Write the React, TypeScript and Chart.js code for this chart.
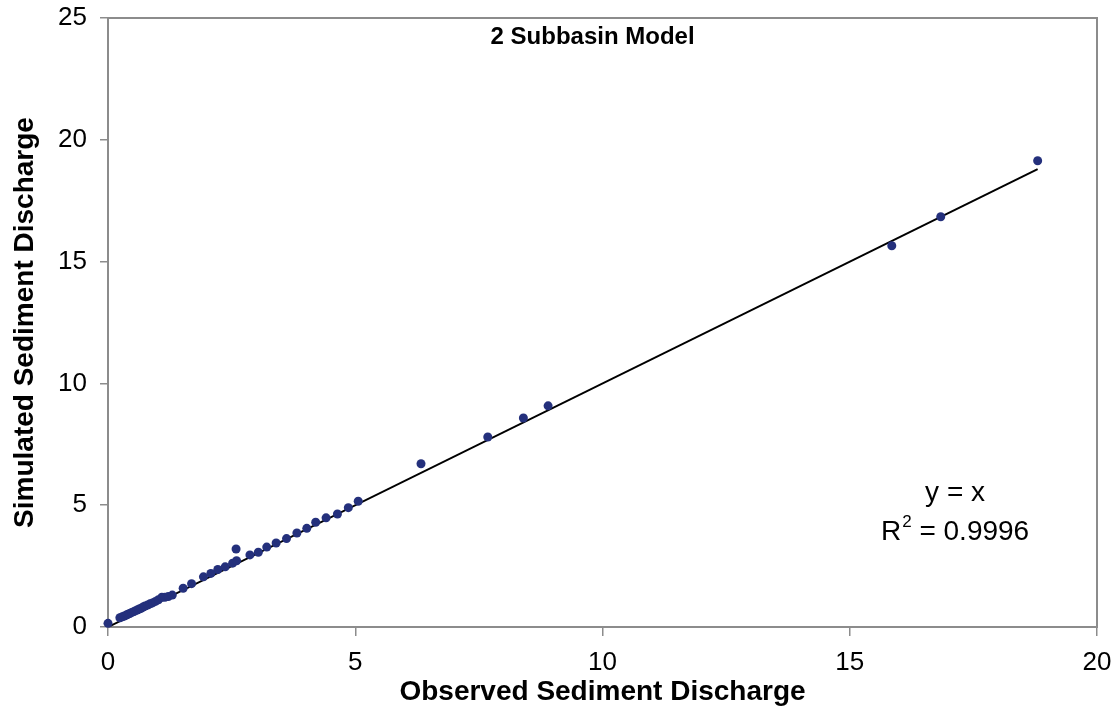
import React, { useEffect, useRef } from "react";
import { Chart, registerables } from "chart.js";

Chart.register(...registerables);

// Observed vs simulated sediment discharge, 2 subbasin model
const observed: number[] = [
  0.0, 0.24, 0.29, 0.33, 0.37, 0.4, 0.44, 0.48, 0.52, 0.55, 0.59, 0.63, 0.67,
  0.71, 0.75, 0.8, 0.85, 0.9, 0.96, 1.02, 1.09, 1.15, 1.22, 1.3, 1.52, 1.69,
  1.93, 2.08, 2.22, 2.37, 2.52, 2.59, 2.6, 2.87, 3.04, 3.21, 3.4, 3.61, 3.82,
  4.02, 4.2, 4.41, 4.64, 4.86, 5.06, 6.33, 7.68, 8.4, 8.9, 15.85, 16.84, 18.8,
];
const simulated: number[] = [
  0.15, 0.38, 0.42, 0.45, 0.49, 0.52, 0.55, 0.6, 0.63, 0.66, 0.7, 0.74, 0.77,
  0.82, 0.86, 0.9, 0.95, 0.99, 1.05, 1.12, 1.22, 1.22, 1.25, 1.31, 1.59, 1.78,
  2.06, 2.2, 2.36, 2.47, 2.62, 3.2, 2.72, 2.96, 3.07, 3.28, 3.45, 3.63, 3.86,
  4.05, 4.3, 4.48, 4.64, 4.9, 5.16, 6.7, 7.8, 8.58, 9.08, 15.65, 16.84, 19.14,
];

const xTicks: number[] = [0, 5, 10, 15, 20];
const yTicks: number[] = [0, 5, 10, 15, 20, 25];

const chartTitle = "2 Subbasin Model";
const xTitle = "Observed Sediment Discharge";
const yTitle = "Simulated Sediment Discharge";
const equationText = "y = x";
const r2Value = "0.9996";

const FONT = "'Liberation Sans', Arial, Helvetica, sans-serif";
const AXIS_GREY = "#8c8c8c";
const POINT_COLOR = "#24307c";

export default function App() {
  const canvasRef = useRef<HTMLCanvasElement | null>(null);

  useEffect(() => {
    const canvas = canvasRef.current;
    if (!canvas) return;

    const points = observed.map((x, i) => ({ x, y: simulated[i] }));
    const xMin = Math.min(...observed);
    const xMax = Math.max(...observed);
    const fitLine = [
      { x: xMin, y: xMin },
      { x: xMax, y: xMax },
    ];

    // frame around the plot area, plus the in-plot title and fit equation
    const decorations = {
      id: "decorations",
      beforeDatasetsDraw(chart: any) {
        const { ctx, chartArea } = chart;
        ctx.save();
        ctx.strokeStyle = AXIS_GREY;
        ctx.lineWidth = 2;
        ctx.strokeRect(
          chartArea.left,
          chartArea.top,
          chartArea.right - chartArea.left,
          chartArea.bottom - chartArea.top
        );
        ctx.restore();
      },
      afterDraw(chart: any) {
        const { ctx, scales } = chart;
        ctx.save();
        ctx.fillStyle = "#000";
        ctx.textBaseline = "middle";
        ctx.textAlign = "center";
        ctx.font = `bold 24px ${FONT}`;
        ctx.fillText(chartTitle, scales.x.getPixelForValue(9.8), scales.y.getPixelForValue(24.2));

        // equation block, centred on one x position
        const cx = scales.x.getPixelForValue(17.13);
        ctx.font = `28px ${FONT}`;
        ctx.fillText(equationText, cx, scales.y.getPixelForValue(5.5));

        const yR = scales.y.getPixelForValue(3.88);
        const bigFont = `28px ${FONT}`;
        const supFont = `17px ${FONT}`;
        const rest = " = " + r2Value;
        ctx.font = bigFont;
        const wR = ctx.measureText("R").width;
        const wRest = ctx.measureText(rest).width;
        ctx.font = supFont;
        const wSup = ctx.measureText("2").width + 1;
        const total = wR + wSup + wRest;
        let x0 = cx - total / 2;
        ctx.textAlign = "left";
        ctx.font = bigFont;
        ctx.fillText("R", x0, yR);
        x0 += wR;
        ctx.font = supFont;
        ctx.fillText("2", x0 + 1, yR - 10);
        x0 += wSup;
        ctx.font = bigFont;
        ctx.fillText(rest, x0, yR);
        ctx.restore();
      },
    };

    const chart = new Chart(canvas, {
      type: "scatter",
      data: {
        datasets: [
          {
            label: "Simulated",
            data: points,
            backgroundColor: POINT_COLOR,
            borderColor: POINT_COLOR,
            borderWidth: 0,
            pointRadius: 4.5,
            clip: false,
            order: 1,
          } as any,
          {
            label: "y = x",
            type: "line",
            data: fitLine,
            borderColor: "#000",
            borderWidth: 2,
            pointRadius: 0,
            fill: false,
            order: 2,
          } as any,
        ],
      },
      options: {
        responsive: false,
        animation: false,
        layout: { padding: { top: 18, right: 20, left: 0, bottom: 0 } },
        plugins: {
          legend: { display: false },
          tooltip: { enabled: false },
        },
        scales: {
          x: {
            type: "linear",
            min: 0,
            max: 20,
            afterBuildTicks: (scale: any) => {
              scale.ticks = xTicks.map((v) => ({ value: v }));
            },
            afterFit: (scale: any) => {
              scale.height = 83;
              scale.paddingLeft = 0;
              scale.paddingRight = 0;
            },
            grid: {
              drawOnChartArea: false,
              drawTicks: true,
              tickLength: 9,
              color: AXIS_GREY,
              lineWidth: 1.5,
            },
            border: { color: AXIS_GREY, width: 2 },
            ticks: {
              color: "#000",
              padding: 11,
              font: { family: FONT, size: 26 },
            },
            title: {
              display: true,
              text: xTitle,
              color: "#000",
              padding: { top: 0, bottom: 1 },
              font: { family: FONT, size: 28, weight: "bold" },
            },
          },
          y: {
            type: "linear",
            min: 0,
            max: 25,
            afterBuildTicks: (scale: any) => {
              scale.ticks = yTicks.map((v) => ({ value: v }));
            },
            afterFit: (scale: any) => {
              scale.width = 108;
              scale.paddingTop = 0;
              scale.paddingBottom = 0;
            },
            grid: {
              drawOnChartArea: false,
              drawTicks: true,
              tickLength: 8,
              color: AXIS_GREY,
              lineWidth: 1.5,
            },
            border: { color: AXIS_GREY, width: 2 },
            ticks: {
              color: "#000",
              padding: 13,
              font: { family: FONT, size: 26 },
            },
            title: {
              display: true,
              text: yTitle,
              color: "#000",
              padding: { top: 8, bottom: 0 },
              font: { family: FONT, size: 28, weight: "bold" },
            },
          },
        },
      },
      plugins: [decorations],
    });

    return () => chart.destroy();
  }, []);

  return (
    <div
      style={{
        position: "fixed",
        left: 0,
        top: 0,
        width: 1117,
        height: 710,
        background: "#fff",
      }}
    >
      <canvas ref={canvasRef} width={1117} height={710} />
    </div>
  );
}
